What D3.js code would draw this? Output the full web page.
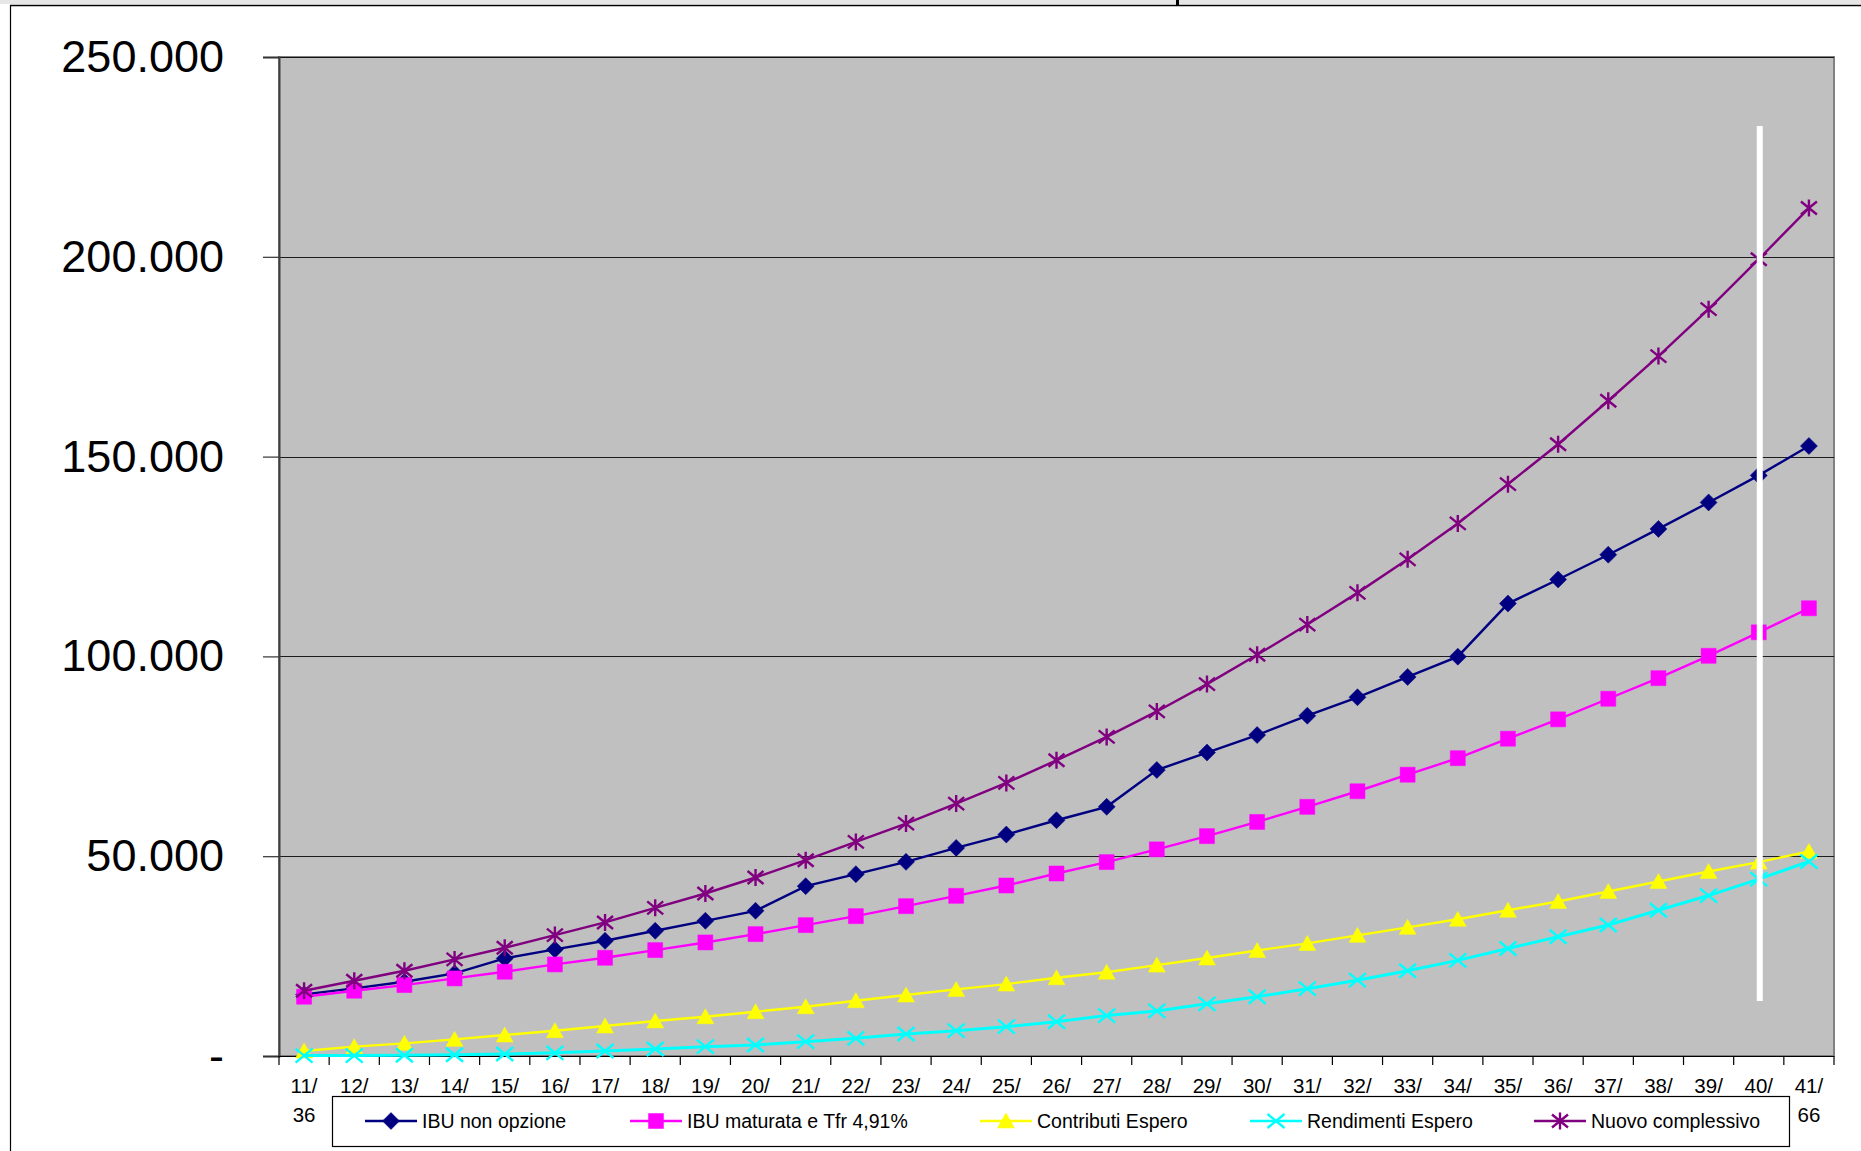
<!DOCTYPE html>
<html><head><meta charset="utf-8">
<script src="https://cdn.jsdelivr.net/npm/d3@7"></script>
<style>
html,body{margin:0;padding:0;background:#fff;}
svg{display:block;font-family:"Liberation Sans",Arial,sans-serif;}
</style>
</head><body>
<svg id="chart" width="1861" height="1151"></svg>
<script>
const categories = ["11/36","12/37","13/38","14/39","15/40","16/41","17/42","18/43","19/44","20/45","21/46","22/47","23/48","24/49","25/50","26/51","27/52","28/53","29/54","30/55","31/56","32/57","33/58","34/59","35/60","36/61","37/62","38/63","39/64","40/65","41/66"];

const ibuNonOpzione = [15417,16917,18583,20667,24417,26667,28833,31333,33833,36333,42500,45500,48583,52083,55417,59000,62352,71572,75946,80320,85166,89775,94858,99941,113225,119250,125450,131900,138525,145300,152650];
const ibuMaturataTfr = [14833,16333,17750,19417,21083,22917,24583,26500,28417,30500,32750,35000,37500,40083,42667,45667,48522,51714,55024,58570,62352,66253,70390,74527,79400,84250,89400,94550,100150,106025,112050];
const contributiEspero = [1250,2333,3167,4167,5250,6333,7500,8750,9833,11083,12333,13833,15250,16667,18000,19583,20969,22742,24515,26407,28180,30189,32199,34209,36475,38675,41175,43675,46175,48525,51175];
const rendimentiEspero = [100,100,200,300,500,800,1250,1750,2333,2750,3583,4417,5500,6333,7333,8583,10106,11288,13061,14835,16844,18972,21336,23936,26900,29850,32775,36475,40150,44275,48675];
const nuovoComplessivo = [16333,18833,21333,24167,27083,30250,33417,37083,40667,44667,49000,53583,58167,63167,68333,74000,79846,86229,93073,100402,107967,115898,124291,133274,143100,153100,163975,175150,186900,199400,212200];

const seriesNames = ["IBU non opzione","IBU maturata e Tfr 4,91%","Contributi Espero","Rendimenti Espero","Nuovo complessivo"];
const seriesValues = [ibuNonOpzione, ibuMaturataTfr, contributiEspero, rendimentiEspero, nuovoComplessivo];
const seriesColors = ["#000080","#FF00FF","#FFFF00","#00FFFF","#800080"];
const seriesMarkers = ["diamond","square","triangle","x","star"];

const yTicks = [0,50000,100000,150000,200000,250000];

// white annotation bar
const markerBar = {category:"40/65", from:13750, to:232750};

// ---------- layout ----------
const svg = d3.select("#chart");
const L = 279, R = 1834, T = 57, B = 1056;
const legendBox = {x:332.5, y:1096.5, w:1457, h:50};

const x = d3.scaleBand().domain(categories).range([L, R]).paddingInner(0).paddingOuter(0);
const xc = c => x(c) + x.bandwidth()/2;
const y = d3.scaleLinear().domain([0,250000]).range([B, T]);

// outer chart frame
svg.append("rect").attr("x",0).attr("y",0).attr("width",1861).attr("height",4).attr("fill","#e6e6e6");
svg.append("line").attr("x1",10).attr("y1",5.5).attr("x2",1861).attr("y2",5.5).attr("stroke","#000").attr("stroke-width",1.5);
svg.append("line").attr("x1",10.5).attr("y1",5).attr("x2",10.5).attr("y2",1151).attr("stroke","#000").attr("stroke-width",1.2);
svg.append("rect").attr("x",1176).attr("y",0).attr("width",3).attr("height",5).attr("fill","#000");

// plot area
svg.append("rect").attr("x",L).attr("y",T).attr("width",R-L).attr("height",B-T)
  .attr("fill","#C0C0C0").attr("stroke","#808080").attr("stroke-width",2);

// gridlines
svg.append("g").selectAll("line").data(yTicks.filter(d=>d>0)).join("line")
  .attr("x1",L).attr("x2",R).attr("y1",d=>Math.round(y(d))+0.5).attr("y2",d=>Math.round(y(d))+0.5)
  .attr("stroke","#000").attr("stroke-width",1).attr("stroke-opacity",0.85);

// y axis
const fmt = d => d === 0 ? "-" : d3.format(",")(d).replace(/,/g,".");
const yAxis = svg.append("g").attr("transform",`translate(${L},0)`)
  .call(d3.axisLeft(y).tickValues(yTicks).tickSize(16).tickPadding(39).tickFormat(fmt));
yAxis.select(".domain").attr("stroke","#404040").attr("stroke-width",2);
yAxis.selectAll(".tick line").attr("stroke","#333").attr("stroke-width",1.2);
yAxis.selectAll(".tick text").attr("font-size",45).attr("fill","#000")
  .attr("font-family","'Liberation Sans',Arial,sans-serif");

// x axis line + ticks
svg.append("line").attr("x1",L).attr("x2",R).attr("y1",B+0.5).attr("y2",B+0.5).attr("stroke","#000").attr("stroke-width",1.2);
const boundaries = categories.map(c => x(c)).concat([R]);
svg.append("g").selectAll("line").data(boundaries).join("line")
  .attr("x1",d=>d).attr("x2",d=>d).attr("y1",B).attr("y2",B+9)
  .attr("stroke","#000").attr("stroke-width",1.2);

// x labels (two lines; the second line is hidden behind the legend for the middle categories)
const xl = svg.append("g").attr("font-size",20.5).attr("text-anchor","middle").attr("fill","#000");
categories.forEach(c => {
  const parts = c.split("/");
  const cx = xc(c);
  const t = xl.append("text").attr("x",cx);
  t.append("tspan").attr("x",cx).attr("y",1093).text(parts[0] + "/");
  const covered = cx > legendBox.x - 12 && cx < legendBox.x + legendBox.w + 12;
  if (!covered) t.append("tspan").attr("x",cx).attr("y",1122).text(parts[1]);
});

// marker paths
function markerPath(type){
  switch(type){
    case "diamond": return "M0,-8.5L8.5,0L0,8.5L-8.5,0Z";
    case "square": return "M-7.5,-7.5H7.5V7.5H-7.5Z";
    case "triangle": return "M0,-8L8.5,7L-8.5,7Z";
    case "x": return "M-8.5,-7L8.5,7M-8.5,7L8.5,-7";
    case "star": return "M-8,-6.5L8,6.5M-8,6.5L8,-6.5M0,-8.5V8.5";
  }
}
function drawMarker(g, type, color){
  const filled = (type==="diamond"||type==="square"||type==="triangle");
  g.append("path").attr("d",markerPath(type))
    .attr("fill", filled ? color : "none")
    .attr("stroke", color)
    .attr("stroke-width", filled ? 0.5 : 2.4);
}

const line = d3.line().x((d,i)=>xc(categories[i])).y(d=>y(d));
seriesValues.forEach((vals, si) => {
  const g = svg.append("g");
  g.append("path").datum(vals).attr("d",line).attr("fill","none")
    .attr("stroke",seriesColors[si]).attr("stroke-width", si===3 ? 3 : 2.4);
  vals.forEach((v,i) => {
    const mg = g.append("g").attr("transform",`translate(${xc(categories[i])},${y(v)})`);
    drawMarker(mg, seriesMarkers[si], seriesColors[si]);
  });
});

// white vertical bar
svg.append("line")
  .attr("x1",xc(markerBar.category)+1).attr("x2",xc(markerBar.category)+1)
  .attr("y1",y(markerBar.to)).attr("y2",y(markerBar.from))
  .attr("stroke","#fff").attr("stroke-width",6);

// legend
svg.append("rect").attr("x",legendBox.x).attr("y",legendBox.y).attr("width",legendBox.w).attr("height",legendBox.h)
  .attr("fill","#fff").attr("stroke","#000").attr("stroke-width",1.2);
const legendX = [365, 630, 980, 1250, 1534];
seriesNames.forEach((n, si) => {
  const g = svg.append("g").attr("transform",`translate(${legendX[si]},1121)`);
  g.append("line").attr("x1",0).attr("x2",52).attr("y1",0).attr("y2",0)
    .attr("stroke",seriesColors[si]).attr("stroke-width",2.4);
  const mg = g.append("g").attr("transform","translate(26,0)");
  drawMarker(mg, seriesMarkers[si], seriesColors[si]);
  g.append("text").attr("x",57).attr("y",0).attr("dy","0.35em")
    .attr("font-size",19.5).attr("fill","#000").text(n);
});
</script>
</body></html>
